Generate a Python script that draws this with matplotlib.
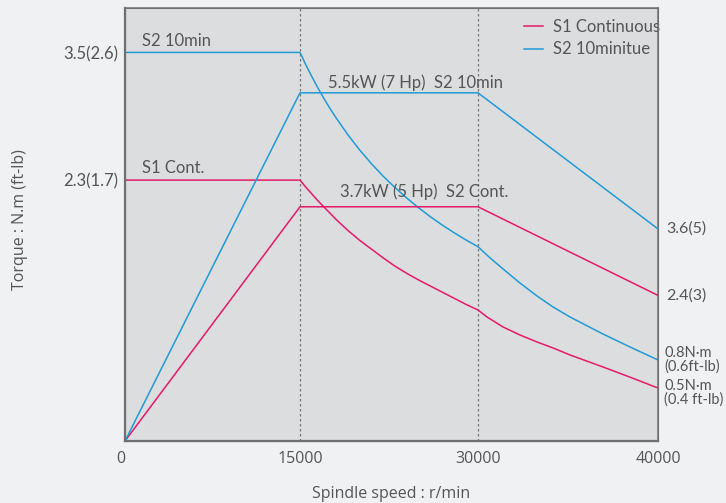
import numpy as np
import matplotlib
matplotlib.use('Agg')
import matplotlib.pyplot as plt
from matplotlib.transforms import blended_transform_factory

plt.rcParams['path.simplify'] = False

# spindle speed break points (r/min)
speed_ticks = [0, 15000, 30000, 40000]
speed_tick_labels = ['0', '15000', '30000', '40000']

# power curves (kW)
power_speed = [0, 15000, 30000, 40000]
power_s1 = [0, 3.7, 3.7, 2.3]
power_s2 = [0, 5.5, 5.5, 3.35]

# torque curves (N.m)
torque_speed_s2 = [0, 15000, 15500, 16000, 16500, 17000, 17500, 18000, 19000, 20000,
                   21000, 22000, 23000, 24000, 25000, 26000, 27000, 28000, 29000, 30000,
                   30670, 31390, 32330, 33280, 34170, 35110, 36940, 38560, 40000]
torque_s2 = [3.5, 3.5, 3.387, 3.281, 3.182, 3.088, 3.0, 2.917, 2.763, 2.625,
             2.5, 2.386, 2.283, 2.188, 2.1, 2.019, 1.944, 1.875, 1.81, 1.75,
             1.649, 1.55, 1.423, 1.306, 1.207, 1.117, 0.964, 0.838, 0.73]
torque_speed_s1 = [0, 15000, 15500, 16000, 16500, 17000, 17500, 18000, 19000, 20000,
                   21000, 22000, 23000, 24000, 25000, 26000, 27000, 28000, 29000, 30000,
                   30500, 31390, 32330, 33280, 34170, 35110, 36940, 38560, 40000]
torque_s1 = [2.35, 2.35, 2.285, 2.225, 2.165, 2.11, 2.055, 2.0, 1.9, 1.81,
             1.73, 1.65, 1.575, 1.51, 1.45, 1.395, 1.34, 1.285, 1.23, 1.18,
             1.117, 1.027, 0.955, 0.892, 0.838, 0.775, 0.667, 0.568, 0.477]

left_ticks = [3.5, 2.35]
left_tick_labels = ['3.5(2.6)', '2.3(1.7)']
right_power_labels = ['3.6(5)', '2.4(3)']
right_torque_labels = ['0.8N·m\n(0.6ft-lb)', '0.5N·m\n(0.4 ft-lb)']

BLUE = '#1f9bd7'
RED = '#e5196a'
TXT = '#555555'
NARROW = ['Lato', 'DejaVu Sans']
WIDE = ['Open Sans', 'DejaVu Sans']

# the chart's x axis is not to scale: segments are drawn almost equal
seg_px = [0, 175, 353, 533]
def fwd(x):
    return np.interp(x, speed_ticks, seg_px)
def inv(x):
    return np.interp(x, seg_px, speed_ticks)

fig = plt.figure(figsize=(7.26, 5.03), dpi=100, facecolor='#f0f1f3')
ax = fig.add_axes([125/726, 62/503, 533/726, 433/503])
ax.set_facecolor('#dcdddf')
ax.set_xscale('function', functions=(fwd, inv))
ax.set_xlim(0, 40000)
ax.set_ylim(0, 3.9)

ax2 = ax.twinx()
ax2.set_ylim(0, 6.84)
ax2.set_yticks([])

for x in [15000, 30000]:
    ax.axvline(x, color='#777777', lw=0.9, ls=(0, (2, 2)), zorder=1)

ax.plot(torque_speed_s1, torque_s1, color=RED, lw=1.1, label='S1 Continuous')
ax.plot(torque_speed_s2, torque_s2, color=BLUE, lw=1.1, label='S2 10minitue')
ax2.plot(power_speed, power_s1, color=RED, lw=1.1)
ax2.plot(power_speed, power_s2, color=BLUE, lw=1.1)

for s in ['left', 'bottom']:
    ax.spines[s].set_linewidth(1.6)
for s in ['top', 'right']:
    ax.spines[s].set_linewidth(1.1)
for a in [ax, ax2]:
    for s in a.spines.values():
        s.set_color('#707070')

ax.set_xticks(speed_ticks)
ax.set_xticklabels(speed_tick_labels, fontsize=11.5, color=TXT, family=WIDE)
ax.get_xticklabels()[0].set_horizontalalignment('right')
ax.tick_params(axis='x', length=0, pad=7)
ax.set_yticks(left_ticks)
ax.set_yticklabels(left_tick_labels, fontsize=12, color=TXT, family=NARROW)
ax.tick_params(axis='y', length=0, pad=5)

ax.set_xlabel('Spindle speed : r/min', fontsize=11.5, color=TXT, family=WIDE, labelpad=14)
fig.text(20/726, 1 - 220/503, 'Torque : N.m (ft-lb)', rotation=90, fontsize=11.5,
         color=TXT, family=WIDE, ha='center', va='center')

ax.text(1500, 3.5 + 0.055, 'S2 10min', fontsize=12, color=TXT, family=NARROW, va='baseline')
ax.text(1500, 2.35 + 0.06, 'S1 Cont.', fontsize=12, color=TXT, family=NARROW, va='baseline')
ax2.text(17400, 5.5 + 0.08, '5.5kW (7 Hp)  S2 10min', fontsize=12, color=TXT, family=NARROW, va='baseline')
ax2.text(18400, 3.7 + 0.15, '3.7kW (5 Hp)  S2 Cont.', fontsize=12, color=TXT, family=NARROW, va='baseline')

tr2 = blended_transform_factory(ax.transAxes, ax2.transData)
tr1 = blended_transform_factory(ax.transAxes, ax.transData)
ax2.text(1.015, power_s2[-1], right_power_labels[0], transform=tr2, fontsize=11.5,
         color=TXT, family=NARROW, va='center', clip_on=False)
ax2.text(1.015, power_s1[-1], right_power_labels[1], transform=tr2, fontsize=11.5,
         color=TXT, family=NARROW, va='center', clip_on=False)
ax.text(1.012, torque_s2[-1], right_torque_labels[0], transform=tr1, fontsize=10.5,
        color=TXT, family=NARROW, va='center', linespacing=0.95, clip_on=False)
ax.text(1.012, 0.56, right_torque_labels[1], transform=tr1, fontsize=10.5,
        color=TXT, family=NARROW, va='top', linespacing=0.95, clip_on=False)

leg = ax.legend(loc='upper left', bbox_to_anchor=(0.721, 1.009), frameon=False,
                handlelength=1.1, handletextpad=0.6, labelspacing=0.38,
                prop={'family': NARROW, 'size': 12})
for t in leg.get_texts():
    t.set_color(TXT)

fig.savefig('out.png', dpi=100, facecolor=fig.get_facecolor())
